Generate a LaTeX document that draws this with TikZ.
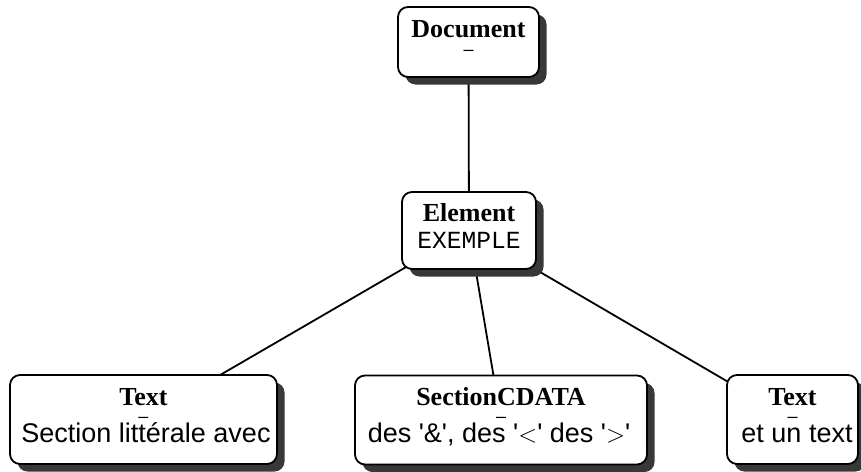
\documentclass[tikz,border=0pt]{standalone}
\usepackage{fontspec}
\setmainfont{Liberation Serif}
\setsansfont{Liberation Sans}
\setmonofont{Liberation Mono}
\usetikzlibrary{shadows,backgrounds}
\tikzset{
  boxnode/.style={draw=black, line width=1.8pt, rounded corners=10pt, fill=white, inner sep=0pt,
    drop shadow={shadow xshift=7.5pt, shadow yshift=-7.5pt, fill=black!78, opacity=1}},
  titletext/.style={font=\fontsize{26}{26}\selectfont\bfseries, anchor=base, inner sep=0pt},
  dashtext/.style={font=\fontsize{18}{18}\selectfont\sffamily, anchor=base, inner sep=0pt, text height=5.8pt, text depth=0pt},
  bodytext/.style={font=\fontsize{27}{27}\selectfont\sffamily, anchor=base, inner sep=0pt, text height=17pt},
  monotext/.style={font=\fontsize{24.6}{24.6}\selectfont\ttfamily, anchor=base, inner sep=0pt},
  link/.style={line width=1.8pt}
}
\begin{document}
\begin{tikzpicture}[x=1pt, y=-1pt]
\useasboundingbox (0,0) rectangle (861,471);
% boxes
\node[boxnode, minimum width=141pt, minimum height=70pt] (doc) at (468.5,42) {};
\node[boxnode, minimum width=134pt, minimum height=77pt] (el) at (469,230.5) {};
\node[boxnode, minimum width=267pt, minimum height=89pt] (t1) at (143.5,419.5) {};
\node[boxnode, minimum width=292pt, minimum height=89pt] (cd) at (501,420) {};
\node[boxnode, minimum width=131pt, minimum height=89pt] (t2) at (792.5,419.5) {};
% connectors
\begin{scope}[on background layer]
\draw[link] (doc.center) -- (el.center);
\draw[link] (el.center) -- (t1.center);
\draw[link] (el.center) -- (cd.center);
\draw[link] (el.center) -- (t2.center);
\end{scope}
% texts
\node[titletext] (doctitle) at (468.5,37.3) {Document};
\node[dashtext] (docdash) at (468.5,55) {–};
\node[titletext] (eltitle) at (469,221.7) {Element};
\node[monotext] (elname) at (469,248.3) {EXEMPLE};
\node[titletext] (t1title) at (143.5,405) {Text};
\node[dashtext] (t1dash) at (143.5,422.5) {–};
\node[bodytext] (t1body) at (146,442) {Section littérale avec};
\node[titletext] (cdtitle) at (501,405) {SectionCDATA};
\node[dashtext] (cddash) at (501,422.5) {–};
\node[bodytext] (cdbody) at (499,442) {des \textquotesingle\&\textquotesingle, des \textquotesingle$<$\textquotesingle{} des \textquotesingle$>$\textquotesingle};
\node[titletext] (t2title) at (792.5,405) {Text};
\node[dashtext] (t2dash) at (792.5,422.5) {–};
\node[bodytext] (t2body) at (797,442) {et un text};
\end{tikzpicture}
\end{document}
